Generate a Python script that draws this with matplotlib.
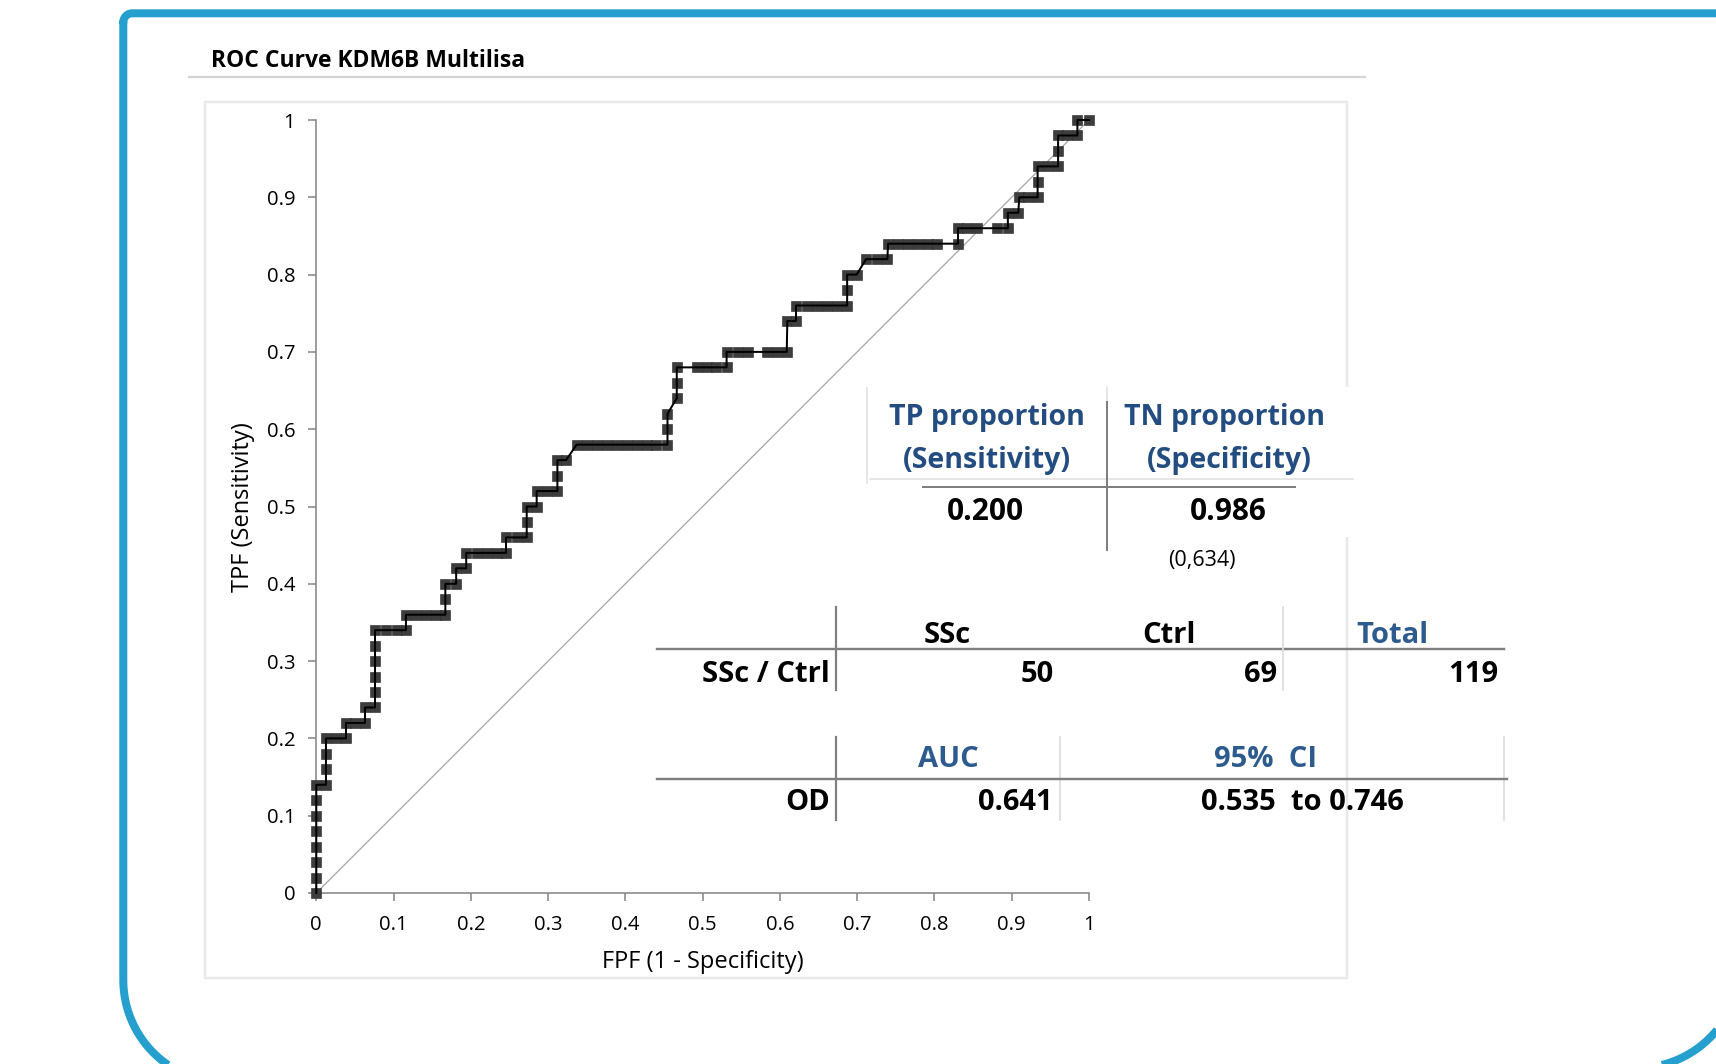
import numpy as np
import matplotlib
matplotlib.use('Agg')
import matplotlib.pyplot as plt
from matplotlib.patches import Rectangle

plt.rcParams['font.family'] = ['Open Sans', 'DejaVu Sans']

W, H = 1716, 1064
DPI = 100
PX = 72.0 / DPI  # points per pixel

# ROC curve points: false positive fraction / true positive fraction
fpf = [0.0, 0.0, 0.0, 0.0, 0.0, 0.0, 0.0, 0.0,
       0.0125, 0.0125, 0.0125, 0.0125,
       0.0255, 0.0384,
       0.0384, 0.050, 0.063,
       0.063, 0.0760,
       0.0760, 0.0760, 0.0760, 0.0760, 0.0760,
       0.0903, 0.104, 0.116,
       0.116, 0.129, 0.142, 0.155, 0.167,
       0.167, 0.167,
       0.181, 0.181, 0.194,
       0.194, 0.2076, 0.2205, 0.2335, 0.2455,
       0.2455, 0.2593, 0.2723,
       0.2723, 0.2723, 0.2852,
       0.2852, 0.298, 0.312,
       0.312, 0.312, 0.3232,
       0.337, 0.350, 0.363, 0.376, 0.389, 0.402, 0.415, 0.428, 0.440, 0.4545,
       0.4545, 0.4545,
       0.4665, 0.4665, 0.4665,
       0.4923, 0.5053, 0.5173, 0.531,
       0.531, 0.5462, 0.559, 0.5829, 0.5958, 0.6088,
       0.6096, 0.6208,
       0.6208, 0.6347, 0.6476, 0.6605, 0.6735, 0.687,
       0.687, 0.687, 0.6993,
       0.7115, 0.726, 0.739,
       0.740, 0.753, 0.766, 0.779, 0.792, 0.8037, 0.8305,
       0.8305, 0.8425, 0.8554, 0.8805, 0.8950,
       0.8950, 0.9085,
       0.9098, 0.9214, 0.9335,
       0.9335, 0.9335, 0.9473, 0.9600,
       0.9600, 0.9600, 0.972, 0.985,
       0.985, 1.0]
tpf = [0.00, 0.02, 0.04, 0.06, 0.08, 0.10, 0.12, 0.14,
       0.14, 0.16, 0.18, 0.20,
       0.20, 0.20,
       0.22, 0.22, 0.22,
       0.24, 0.24,
       0.26, 0.28, 0.30, 0.32, 0.34,
       0.34, 0.34, 0.34,
       0.36, 0.36, 0.36, 0.36, 0.36,
       0.38, 0.40,
       0.40, 0.42, 0.42,
       0.44, 0.44, 0.44, 0.44, 0.44,
       0.46, 0.46, 0.46,
       0.48, 0.50, 0.50,
       0.52, 0.52, 0.52,
       0.54, 0.56, 0.56,
       0.58, 0.58, 0.58, 0.58, 0.58, 0.58, 0.58, 0.58, 0.58, 0.58,
       0.60, 0.62,
       0.64, 0.66, 0.68,
       0.68, 0.68, 0.68, 0.68,
       0.70, 0.70, 0.70, 0.70, 0.70, 0.70,
       0.74, 0.74,
       0.76, 0.76, 0.76, 0.76, 0.76, 0.76,
       0.78, 0.80, 0.80,
       0.82, 0.82, 0.82,
       0.84, 0.84, 0.84, 0.84, 0.84, 0.84, 0.84,
       0.86, 0.86, 0.86, 0.86, 0.86,
       0.88, 0.88,
       0.90, 0.90, 0.90,
       0.92, 0.94, 0.94, 0.94,
       0.96, 0.98, 0.98, 0.98,
       1.00, 1.00]

ticks = [0, 0.1, 0.2, 0.3, 0.4, 0.5, 0.6, 0.7, 0.8, 0.9, 1]
tick_labels = ['0', '0.1', '0.2', '0.3', '0.4', '0.5', '0.6', '0.7', '0.8', '0.9', '1']

title = 'ROC Curve KDM6B Multilisa'
xlabel = 'FPF (1 - Specificity)'
ylabel = 'TPF (Sensitivity)'

# summary tables
sens_header = ['TP proportion', '(Sensitivity)']
spec_header = ['TN proportion', '(Specificity)']
sens_value = '0.200'
spec_value = '0.986'
cutoff_label = '(0,634)'
group_cols = ['SSc', 'Ctrl', 'Total']
group_row = 'SSc / Ctrl'
group_counts = ['50', '69', '119']
auc_cols = ['AUC', '95%  CI']
auc_row = 'OD'
auc_value = '0.641'
ci_text = '0.535  to 0.746'

BLUE_FRAME = '#259fcd'
HEAD_BLUE = '#234d80'
HEAD_BLUE2 = '#2d5b8e'

fig = plt.figure(figsize=(W / DPI, H / DPI), dpi=DPI)
fig.patch.set_facecolor('white')

# background layer in pixel coordinates
bg = fig.add_axes([0, 0, 1, 1], zorder=0)
bg.set_xlim(0, W)
bg.set_ylim(H, 0)
bg.axis('off')


def arc(cx, cy, r, a0, a1, n=60):
    a = np.radians(np.linspace(a0, a1, n))
    return cx + r * np.cos(a), cy + r * np.sin(a)


# rounded blue frame; its right side and bottom lie past the canvas edge
L, T = 123.3, 13.3
r_tl = 9.0
r_bl = 103.0
bl_cy = 980.0
px_, py_ = arc(L + r_bl, bl_cy, r_bl, 100, 180)       # bottom-left corner
xs = list(px_) + [L]
ys = list(py_) + [T + r_tl]
px_, py_ = arc(L + r_tl, T + r_tl, r_tl, 180, 270)   # top-left corner
xs += list(px_) + [W + 20]
ys += list(py_) + [T]
bg.plot(xs, ys, color=BLUE_FRAME, lw=8 * PX, solid_capstyle='butt',
        solid_joinstyle='round')
px_, py_ = arc(1637.0, 965.0, 103.0, 10, 76)           # bottom-right corner
bg.plot(px_, py_, color=BLUE_FRAME, lw=8 * PX, solid_capstyle='butt')

# title and its rule
bg.text(211, 67, title, fontsize=16.5, fontweight='bold', color='black',
        ha='left', va='baseline')
bg.plot([188, 1366], [76.7, 76.7], color='#d4d4d4', lw=2.2 * PX, solid_capstyle='butt')

# plot-area border
bg.add_patch(Rectangle((205, 102), 1346.7 - 205, 977.7 - 102, facecolor='white',
                       edgecolor='#e9e9e9', lw=2.5 * PX))

# main chart
x0, y0, x1, y1 = 316.3, 893.0, 1089.0, 120.0
ax = fig.add_axes([x0 / W, (H - y0) / H, (x1 - x0) / W, (y0 - y1) / H], zorder=1)
ax.patch.set_alpha(0)
ax.set_xlim(0, 1)
ax.set_ylim(0, 1)
for side in ('top', 'right'):
    ax.spines[side].set_visible(False)
for side in ('left', 'bottom'):
    ax.spines[side].set_color('#888888')
    ax.spines[side].set_linewidth(1.6 * PX)
ax.set_xticks(ticks)
ax.set_xticklabels(tick_labels)
ax.set_yticks(ticks)
ax.set_yticklabels(tick_labels)
ax.tick_params(axis='both', direction='out', length=8 * PX, width=1.6 * PX,
               color='#888888', labelsize=14.6, labelcolor='black')
ax.tick_params(axis='y', pad=13 * PX)
ax.tick_params(axis='x', pad=14 * PX)

ax.plot([0, 1], [0, 1], color='#a8a8a8', lw=1.3 * PX, zorder=2, clip_on=False)
ax.plot(fpf, tpf, linestyle='none', marker='s', markersize=10.5 * PX,
        markerfacecolor='#3d3d3d', markeredgecolor='#2e2e2e', markeredgewidth=0.6 * PX,
        zorder=3, clip_on=False)
ax.plot(fpf, tpf, color='black', lw=2.0 * PX, zorder=4, clip_on=False)

ax.set_xlabel(xlabel, fontsize=17, labelpad=0)
ax.set_ylabel(ylabel, fontsize=17, labelpad=0)
ax.xaxis.set_label_coords((702.6 - x0) / (x1 - x0), (y0 - 962) / (y0 - y1))
ax.yaxis.set_label_coords((243 - x0) / (x1 - x0), (y0 - 507) / (y0 - y1))
ax.xaxis.label.set_va('center')
ax.yaxis.label.set_va('center')

# tables layer in pixel coordinates
top = fig.add_axes([0, 0, 1, 1], zorder=2)
top.set_xlim(0, W)
top.set_ylim(H, 0)
top.axis('off')
top.patch.set_alpha(0)

# sensitivity / specificity block
top.add_patch(Rectangle((862, 387), 1352 - 862, 537 - 387, facecolor='white',
                        edgecolor='none'))
LIGHT = '#dedede'
DARK = '#7f7f7f'
top.plot([866.7, 866.7], [388, 483], color=LIGHT, lw=1.5 * PX)
top.plot([870, 1353], [479.3, 479.3], color=LIGHT, lw=1.5 * PX)
top.plot([1106.7, 1106.7], [387, 403], color=LIGHT, lw=1.5 * PX)
top.plot([1106.7, 1106.7], [402, 550], color=DARK, lw=2.0 * PX)
top.plot([923, 1295], [487.3, 487.3], color=DARK, lw=2.0 * PX)

FS1 = 20.5
top.text(986.7, 425, sens_header[0], fontsize=FS1, fontweight='bold', color=HEAD_BLUE,
         ha='center', va='baseline')
top.text(986.7, 468, sens_header[1], fontsize=FS1, fontweight='bold', color=HEAD_BLUE,
         ha='center', va='baseline')
top.text(1225, 425, spec_header[0], fontsize=FS1, fontweight='bold', color=HEAD_BLUE,
         ha='center', va='baseline')
top.text(1229, 468, spec_header[1], fontsize=FS1, fontweight='bold', color=HEAD_BLUE,
         ha='center', va='baseline')
top.text(985, 520, sens_value, fontsize=21.5, fontweight='bold', color='black',
         ha='center', va='baseline')
top.text(1228, 520, spec_value, fontsize=21.5, fontweight='bold', color='black',
         ha='center', va='baseline')
top.text(1202, 566, cutoff_label, fontsize=15.5, color='black', ha='center', va='baseline')

# group counts block
FS2 = 21
top.plot([836.4, 836.4], [606.7, 690], color=DARK, lw=2.2 * PX)
top.plot([656.8, 1504], [649.3, 649.3], color=DARK, lw=2.4 * PX)
top.plot([1282.5, 1282.5], [606.7, 690], color=LIGHT, lw=1.8 * PX)
top.text(947, 642.7, group_cols[0], fontsize=FS2, fontweight='bold', color='black',
         ha='center', va='baseline')
top.text(1169, 642.7, group_cols[1], fontsize=FS2, fontweight='bold', color='black',
         ha='center', va='baseline')
top.text(1392, 642.7, group_cols[2], fontsize=FS2, fontweight='bold', color=HEAD_BLUE2,
         ha='center', va='baseline')
top.text(829.5, 681.7, group_row, fontsize=FS2, fontweight='bold', color='black',
         ha='right', va='baseline')
for xr, txt in zip([1053.5, 1277, 1498], group_counts):
    top.text(xr, 681.7, txt, fontsize=FS2, fontweight='bold', color='black',
             ha='right', va='baseline')

# AUC block
top.plot([836.4, 836.4], [736.7, 820], color=DARK, lw=2.2 * PX)
top.plot([1059.8, 1059.8], [736.7, 820], color=LIGHT, lw=1.8 * PX)
top.plot([1504, 1504], [736.7, 820], color=LIGHT, lw=1.8 * PX)
top.plot([656.8, 1507], [779.3, 779.3], color=DARK, lw=2.4 * PX)
top.text(948, 766.7, auc_cols[0], fontsize=FS2, fontweight='bold', color=HEAD_BLUE2,
         ha='center', va='baseline')
top.text(1266, 766.7, auc_cols[1], fontsize=FS2, fontweight='bold', color=HEAD_BLUE2,
         ha='center', va='baseline')
top.text(829.7, 810, auc_row, fontsize=FS2, fontweight='bold', color='black',
         ha='right', va='baseline')
top.text(1053, 810, auc_value, fontsize=FS2, fontweight='bold', color='black',
         ha='right', va='baseline')
top.text(1302, 810, ci_text, fontsize=FS2, fontweight='bold', color='black',
         ha='center', va='baseline')

fig.savefig('out.png', dpi=DPI, facecolor='white')
